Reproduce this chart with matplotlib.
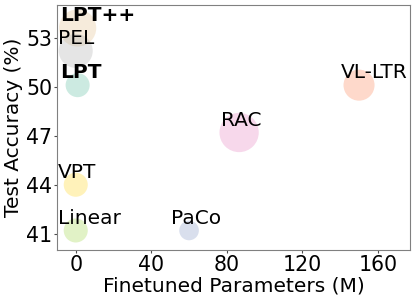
import matplotlib
matplotlib.use("Agg")
import matplotlib.pyplot as plt

methods = ["LPT++", "PEL", "LPT", "VPT", "Linear", "PaCo", "RAC", "VL-LTR"]
params = [1.0, 0.0, 1.0, 0.0, 0.0, 60.0, 86.5, 150.0]
accuracy = [53.6, 52.2, 50.1, 44.0, 41.2, 41.2, 47.2, 50.1]
sizes = [720, 600, 300, 300, 300, 200, 800, 500]
colors = ["#e5c494", "#b3b3b3", "#66c2a5", "#ffd92f", "#a6d854", "#8da0cb", "#e78ac3", "#fc8d62"]
bold = [True, False, True, False, False, False, False, False]
xticks = [0, 40, 80, 120, 160]
yticks = [41, 44, 47, 50, 53]

fs = 14.5
fig = plt.figure(figsize=(4.15, 3.02), dpi=100)
ax = fig.add_axes([0.137, 0.172, 0.851, 0.811])
ax.scatter(params, accuracy, s=sizes, c=colors, alpha=0.33, edgecolors="none")
for m, x, y, b in zip(methods, params, accuracy, bold):
    ax.text(x - 9.5, y + 0.42, m, fontsize=fs, ha="left", va="baseline",
            fontweight="bold" if b else "normal")
ax.set_xlim(-10, 177)
ax.set_ylim(40, 55)
ax.set_xticks(xticks)
ax.set_yticks(yticks)
ax.tick_params(labelsize=14.8, length=2.2, pad=1.2, color="0.3")
ax.set_xlabel("Finetuned Parameters (M)", fontsize=fs, labelpad=1)
ax.set_ylabel("Test Accuracy (%)", fontsize=fs, labelpad=2)
for sp in ax.spines.values():
    sp.set_color("0.5")
fig.savefig("out.png", dpi=100)
